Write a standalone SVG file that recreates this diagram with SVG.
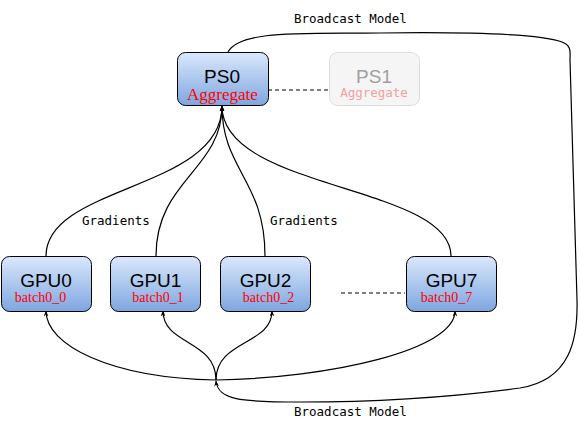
<svg xmlns="http://www.w3.org/2000/svg" width="580" height="424" viewBox="0 0 580 424">
<defs>
<linearGradient id="blue" x1="0" y1="0" x2="0" y2="1">
<stop offset="0" stop-color="#dae8fc"/>
<stop offset="1" stop-color="#7ea6e0"/>
</linearGradient>
<marker id="arr" viewBox="0 0 10 10" refX="9" refY="5" markerWidth="6" markerHeight="6" orient="auto" markerUnits="userSpaceOnUse">
<path d="M0,1 L10,5 L0,9 L3,5 Z" fill="#000"/>
</marker>
</defs>
<style>
.box{fill:url(#blue);stroke:#000;stroke-width:1}
.ghost{fill:#f5f5f5;stroke:#dddddd;stroke-width:1}
.title{font-family:"Liberation Sans",Arial,sans-serif;font-size:19px;fill:#000;text-anchor:middle}
.sub{font-family:"Liberation Serif","Times New Roman",serif;font-size:14px;fill:#ff0000;text-anchor:middle}
.big{font-size:17px}
.mono{font-family:"DejaVu Sans Mono",monospace;font-size:12.5px;fill:#000}
.ghosttitle{fill:#a0a0a0}
.ghostsub{font-family:"DejaVu Sans Mono",monospace;font-size:12.5px;fill:#f2a0a0;text-anchor:middle}
.edge{fill:none;stroke:#000;stroke-width:1.2}
.dash{fill:none;stroke:#000;stroke-width:1;stroke-dasharray:4,3}
</style>
<rect width="580" height="424" fill="#fff"/>
<g id="connectors">
<path class="dash" d="M268,90 L329,90"/>
<path class="dash" d="M341,293 L405,293"/>
<path class="edge" marker-end="url(#arr)" d="M46,256 C46,185 222,190 222,106"/>
<path class="edge" marker-end="url(#arr)" d="M156,256 C156,180 222,170 222,106"/>
<path class="edge" marker-end="url(#arr)" d="M265,256 C265,180 222,170 222,106"/>
<path class="edge" marker-end="url(#arr)" d="M451,256 C451,185 222,190 222,106"/>
<path class="edge" marker-end="url(#arr)" d="M228,52 C240,30 300,34 380,33 C460,32 540,34 562,42 C572,46 570,52 570,60 L577,300 C578,340 570,380 520,388 C460,396 380,402 300,402 C240,402 218,400 216,381"/>
<path class="edge" marker-end="url(#arr)" d="M216,380 C110,378 46,345 46,311"/>
<path class="edge" marker-end="url(#arr)" d="M216,380 C216,340 163,345 163,311"/>
<path class="edge" marker-end="url(#arr)" d="M216,380 C216,340 272,345 272,311"/>
<path class="edge" marker-end="url(#arr)" d="M216,380 C330,378 455,350 455,311"/>
<text class="mono" x="82" y="225">Gradients</text>
<text class="mono" x="270" y="225">Gradients</text>
<text class="mono" x="294" y="23">Broadcast Model</text>
<text class="mono" x="294" y="416">Broadcast Model</text>
</g>
<g id="PS0">
<rect class="box" x="177.5" y="52.5" width="91" height="53" rx="8"/>
<text class="title" x="222" y="83">PS0</text>
<text class="sub big" x="222.5" y="100">Aggregate</text>
</g>
<g id="PS1">
<rect class="ghost" x="329.5" y="52.5" width="90" height="53" rx="8"/>
<text class="title ghosttitle" x="374" y="83">PS1</text>
<text class="ghostsub" x="374" y="97">Aggregate</text>
</g>
<g id="GPU0">
<rect class="box" x="1.5" y="256.5" width="90" height="55" rx="8"/>
<text class="title" x="46" y="286.5">GPU0</text>
<text class="sub" x="40.5" y="302">batch0_0</text>
</g>
<g id="GPU1">
<rect class="box" x="110.5" y="256.5" width="90" height="55" rx="8"/>
<text class="title" x="155.5" y="286.5">GPU1</text>
<text class="sub" x="158" y="302">batch0_1</text>
</g>
<g id="GPU2">
<rect class="box" x="220.5" y="256.5" width="90" height="55" rx="8"/>
<text class="title" x="265.5" y="286.5">GPU2</text>
<text class="sub" x="268.5" y="302">batch0_2</text>
</g>
<g id="GPU7">
<rect class="box" x="406.5" y="256.5" width="90" height="55" rx="8"/>
<text class="title" x="451.5" y="286.5">GPU7</text>
<text class="sub" x="446.5" y="302">batch0_7</text>
</g>
</svg>
